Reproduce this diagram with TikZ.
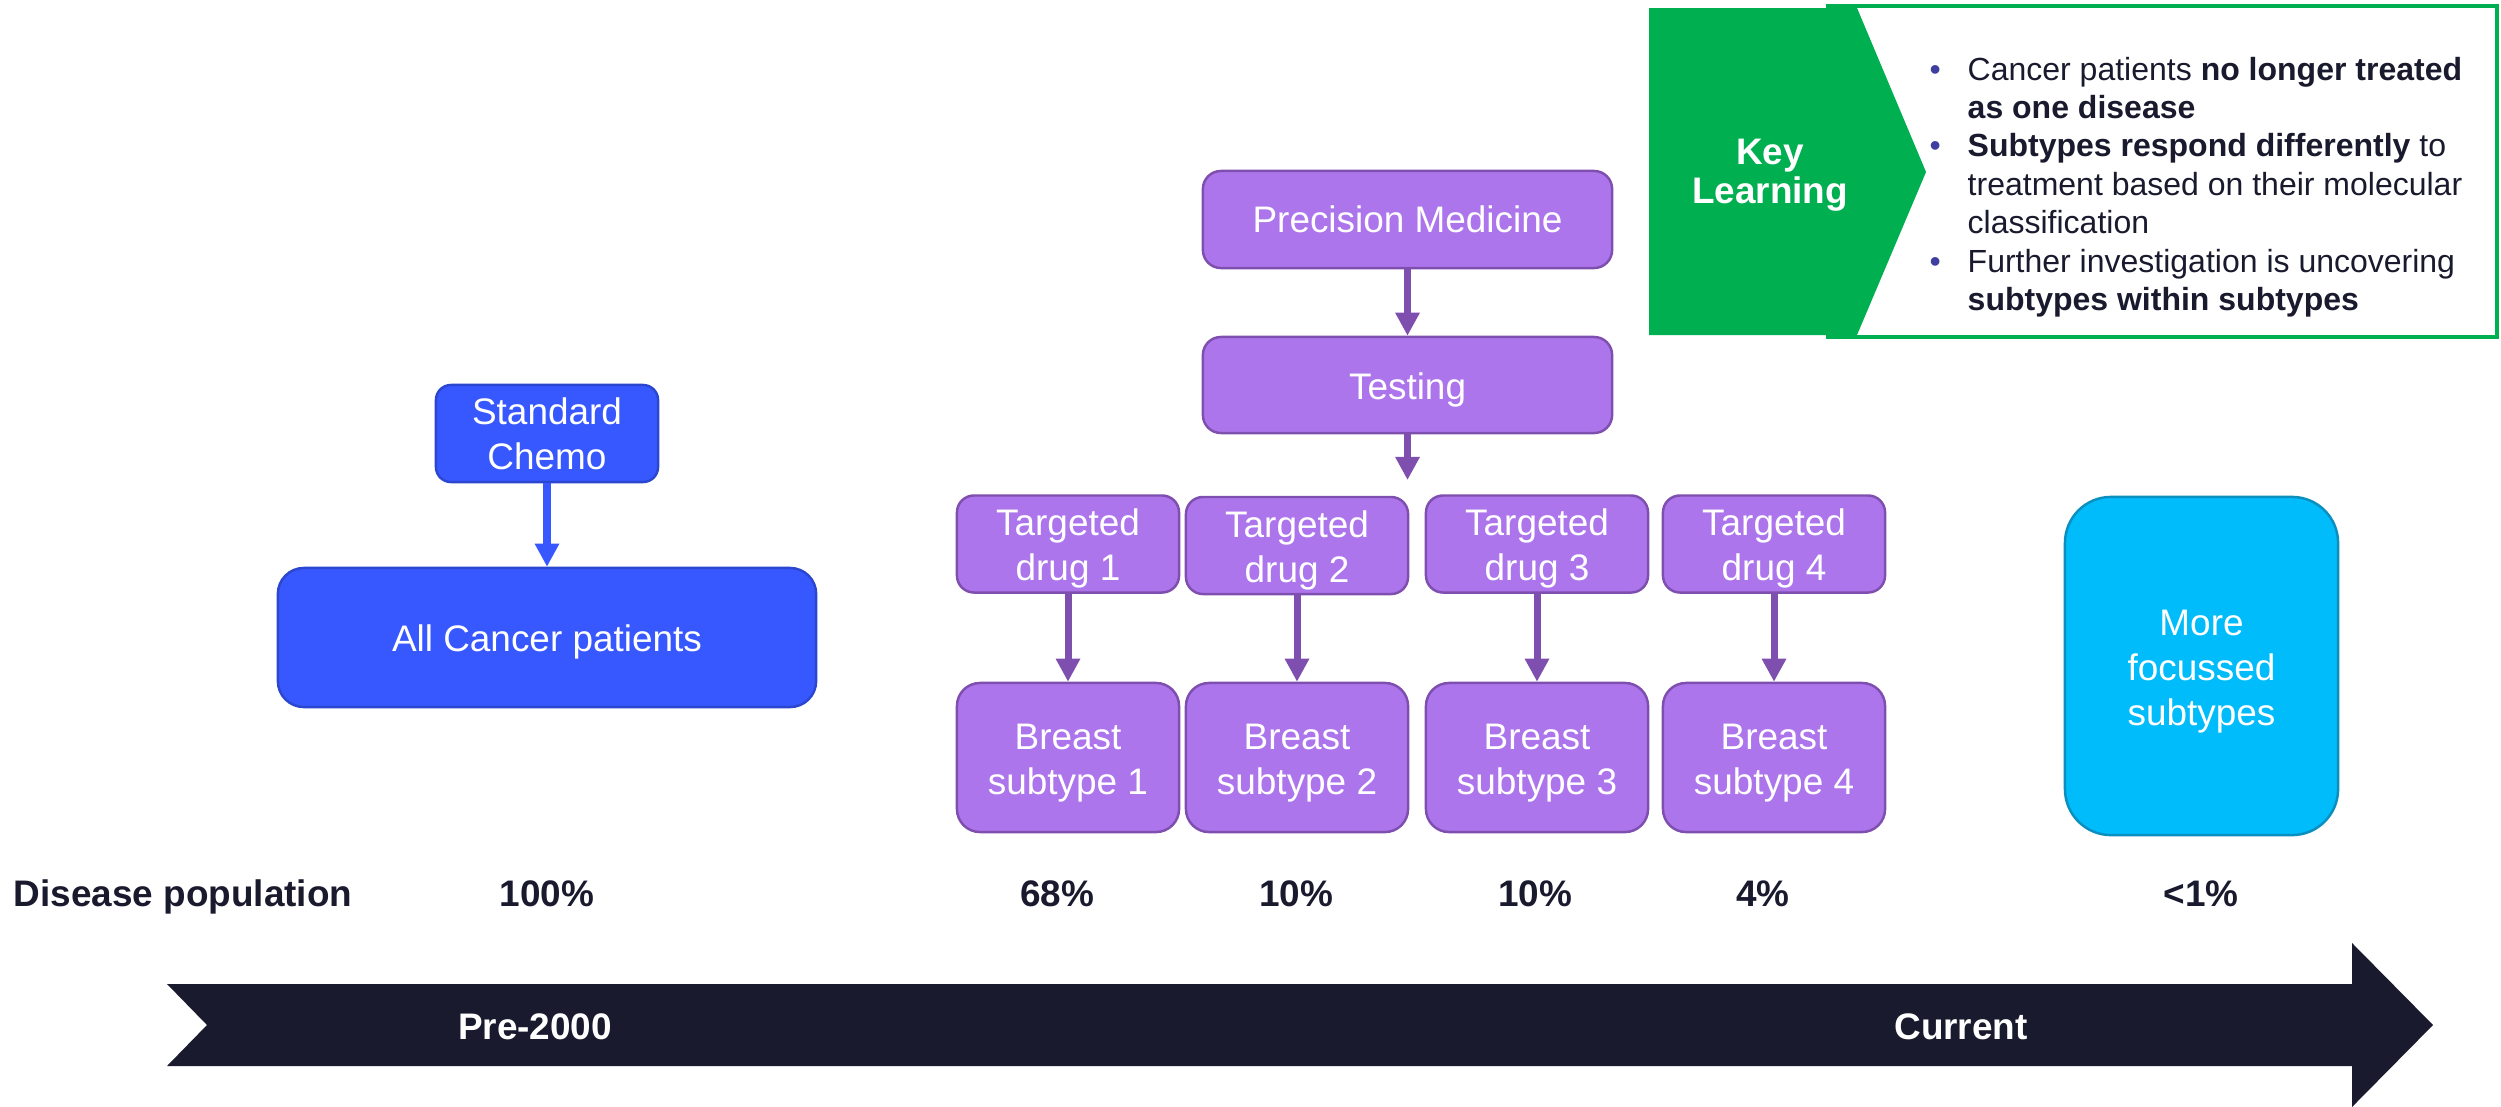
\documentclass[tikz,border=0pt]{standalone}
\usepackage{fontspec}
\setmainfont{Liberation Sans}
\usetikzlibrary{arrows.meta}
\definecolor{purp}{HTML}{AD75EC}
\definecolor{purpd}{HTML}{7E4FAE}
\definecolor{blu}{HTML}{3858FF}
\definecolor{blud}{HTML}{2B47CF}
\definecolor{cyn}{HTML}{00BCFA}
\definecolor{cynd}{HTML}{0A8FBF}
\definecolor{grn}{HTML}{00AF50}
\definecolor{navy}{HTML}{1A1A2E}
\definecolor{bul}{HTML}{3F3F9F}
\newcommand{\firstlift}{\rule{0pt}{10.3pt}}
\tikzset{
  box/.style={draw, line width=0.7pt, align=center, text=white, inner sep=0pt,
    font=\fontsize{10.5}{12.8}\selectfont},
  dn/.style={execute at begin node={\firstlift}},
  pbox/.style={box, fill=purp, draw=purpd},
  bbox/.style={box, fill=blu, draw=blud},
  cbox/.style={box, fill=cyn, draw=cynd},
  tdbox/.style={pbox, minimum width=2.22cm, minimum height=0.97cm, rounded corners=0.17cm},
  bsbox/.style={pbox, minimum width=2.22cm, minimum height=1.49cm, rounded corners=0.23cm},
  parr/.style={draw=purpd, line width=2pt, -{Triangle[width=0.23cm,length=0.23cm]}},
  barr/.style={draw=blu, line width=2pt, -{Triangle[width=0.23cm,length=0.23cm]}},
  pct/.style={anchor=base, inner sep=0pt, text=navy, font=\bfseries\fontsize{10.5}{12}\selectfont},
  wlab/.style={anchor=base, inner sep=0pt, text=white, font=\bfseries\fontsize{10.5}{12}\selectfont},
  btxt/.style={anchor=base west, text=navy, inner sep=0pt, font=\fontsize{9.1}{11}\selectfont},
  bdot/.style={anchor=base west, text=bul, inner sep=0pt, font=\fontsize{9.1}{11}\selectfont}
}
\begin{document}
\begin{tikzpicture}[x=0.01cm,y=-0.01cm]
\useasboundingbox (0,0) rectangle (2501,1106);

% timeline arrow
\fill[navy] (167,984) -- (2352,984) -- (2352,943) -- (2433,1025) -- (2352,1107)
  -- (2352,1066) -- (167,1066) -- (207,1025) -- cycle;
\node[wlab] (pre) at (535,1039) {Pre-2000};
\node[wlab] (cur) at (1961,1039) {Current};

% left column
\node[bbox, minimum width=2.22cm, minimum height=0.97cm, rounded corners=0.15cm] (sc) at (547,433.5) {Standard\\Chemo};
\node[bbox, dn, minimum width=5.38cm, minimum height=1.39cm, rounded corners=0.26cm] (acp) at (547,637.5) {All Cancer patients};
\draw[barr] (sc) -- (acp);

% precision medicine tree
\node[pbox, minimum width=4.09cm, minimum height=0.97cm, rounded corners=0.18cm] (pm) at (1407.5,219.5) {Precision Medicine};
\node[pbox, dn, minimum width=4.09cm, minimum height=0.96cm, rounded corners=0.18cm] (test) at (1407.5,385) {Testing};
\coordinate (tend) at (1407.5,480);
\draw[parr] (pm) -- (test);
\draw[parr] (test) -- (tend);

\node[tdbox] (td1) at (1068,544) {\firstlift Targeted\\drug 1};
\node[tdbox] (td2) at (1297,545.5) {\firstlift Targeted\\drug 2};
\node[tdbox] (td3) at (1537,544) {\firstlift Targeted\\drug 3};
\node[tdbox] (td4) at (1774,544) {\firstlift Targeted\\drug 4};

\node[bsbox] (bs1) at (1068,757.5) {\firstlift Breast\\subtype 1};
\node[bsbox] (bs2) at (1297,757.5) {\firstlift Breast\\subtype 2};
\node[bsbox] (bs3) at (1537,757.5) {\firstlift Breast\\subtype 3};
\node[bsbox] (bs4) at (1774,757.5) {\firstlift Breast\\subtype 4};

\draw[parr] (td1) -- (bs1);
\draw[parr] (td2) -- (bs2);
\draw[parr] (td3) -- (bs3);
\draw[parr] (td4) -- (bs4);

\node[cbox, minimum width=2.73cm, minimum height=3.38cm, rounded corners=0.46cm] (mfs) at (2201.5,666) {\firstlift More\\focussed\\subtypes};

% population row
\node[pct, anchor=base west] (dp) at (13,906) {Disease population};
\node[pct] (p100) at (547,906) {100\%};
\node[pct] (p68) at (1057,906) {68\%};
\node[pct] (p10a) at (1296,906) {10\%};
\node[pct] (p10b) at (1535,906) {10\%};
\node[pct] (p4) at (1763,906) {4\%};
\node[pct] (p1) at (2201,906) {<1\%};

% key learning
\draw[draw=grn, line width=0.9pt, fill=white] (1828,6) rectangle (2497,337);
\fill[grn] (1649,8) -- (1857,8) -- (1926,172) -- (1857,335) -- (1649,335) -- cycle;
\node[align=center, text=white, font=\bfseries\fontsize{10.5}{11.1}\selectfont] (kl) at (1770,175) {Key\\Learning};

\node[bdot] (b1) at (1929,80) {•};
\node[bdot] (b2) at (1929,156.8) {•};
\node[bdot] (b3) at (1929,272) {•};
\node[btxt] (l1) at (1967,80) {Cancer patients \textbf{no longer treated}};
\node[btxt] (l2) at (1967,118.4) {\textbf{as one disease}};
\node[btxt] (l3) at (1967,156.8) {\textbf{Subtypes respond differently} to};
\node[btxt] (l4) at (1967,195.2) {treatment based on their molecular};
\node[btxt] (l5) at (1967,233.6) {classification};
\node[btxt] (l6) at (1967,272) {Further investigation is uncovering};
\node[btxt] (l7) at (1967,310.4) {\textbf{subtypes within subtypes}};
\end{tikzpicture}
\end{document}
